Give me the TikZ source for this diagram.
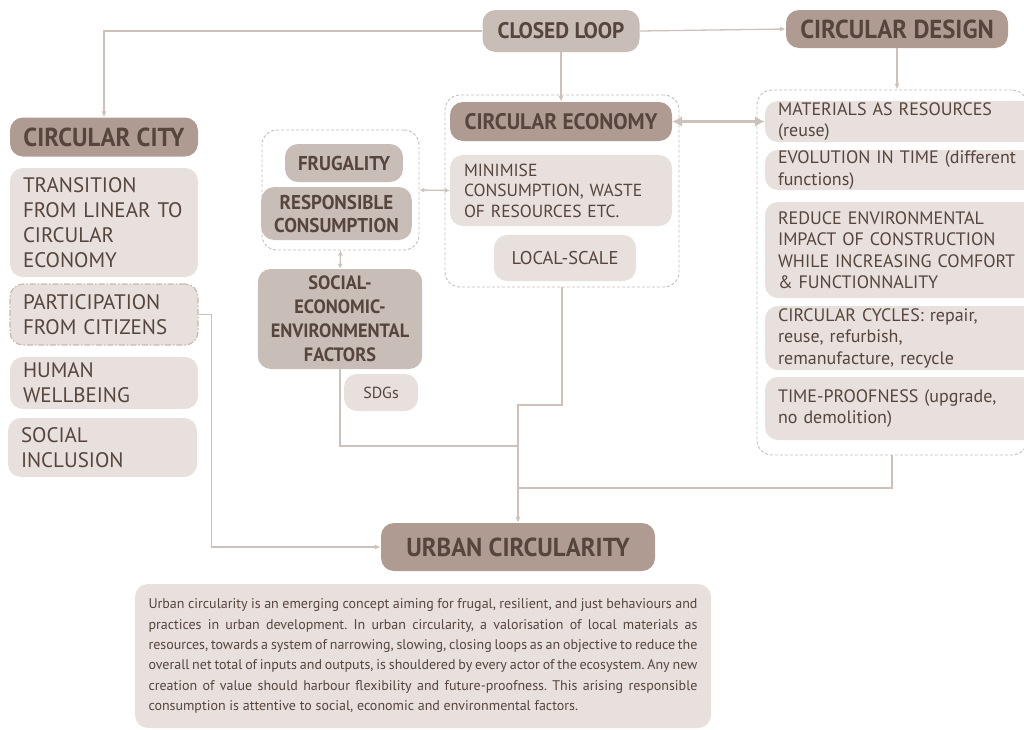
\documentclass[tikz,border=0pt]{standalone}
\usepackage{fontspec}
\setmainfont{PT Sans}
\newfontfamily\headfont{PT Sans}[FakeStretch=0.95]
\usetikzlibrary{arrows.meta, positioning}
\definecolor{taupe}{RGB}{176,155,146}
\definecolor{greige}{RGB}{201,189,183}
\definecolor{mist}{RGB}{231,224,220}
\definecolor{ink}{RGB}{86,69,61}
\definecolor{wire}{RGB}{205,193,188}
\definecolor{frame}{RGB}{198,186,180}

\begin{document}
\begin{tikzpicture}[
    x=1pt, y=-1pt,
    base/.style={
        rectangle,
        rounded corners=13pt,
        inner xsep=13pt,
        inner ysep=0pt,
        text=ink
    },
    head/.style={
        base,
        fill=taupe,
        align=center,
        font=\headfont\bfseries\fontsize{26}{30}\selectfont
    },
    sub/.style={
        base,
        fill=greige,
        align=center,
        font=\headfont\bfseries\fontsize{20}{23}\selectfont
    },
    item/.style={
        base,
        fill=mist,
        align=left,
        font=\fontsize{21}{25}\selectfont
    },
    note/.style={
        base,
        fill=mist,
        align=left,
        text width=255pt,
        font=\fontsize{18}{21.5}\selectfont
    },
    group/.style={
        rectangle,
        rounded corners=15pt,
        draw=frame,
        line width=0.9pt,
        dash pattern=on 3pt off 2pt
    },
    link/.style={draw=wire, line width=1.3pt},
    feed/.style={link, -{Latex[length=6pt, width=5pt]}},
    duplex/.style={link, {Latex[length=5pt, width=5pt]}-{Latex[length=5pt, width=5pt]}},
    bigduplex/.style={draw=wire, line width=3.5pt, {Latex[length=10pt, width=11pt]}-{Latex[length=10pt, width=11pt]}}
]
\useasboundingbox (0,0) rectangle (1024,729);

% dashed groups
\node[group, minimum width=157pt, minimum height=120pt] (frugbox) at (340.5,190) {};
\node[group, minimum width=234pt, minimum height=192pt] (econbox) at (562,191) {};
\node[group, minimum width=270pt, minimum height=365pt] (designbox) at (892,272.5) {};

% top row
\node[sub, font=\headfont\bfseries\fontsize{22.5}{26}\selectfont,
      minimum width=157pt, minimum height=42pt] (closed) at (561,31) {CLOSED LOOP};
\node[head, minimum width=222pt, minimum height=38pt] (design) at (897,29) {CIRCULAR DESIGN};

% circular city column
\node[head, minimum width=188pt, minimum height=39pt] (city) at (104,137) {CIRCULAR CITY};
\node[item, text width=162pt, minimum height=109pt] (transition) at (104,222.5)
    {TRANSITION\\FROM LINEAR TO\\CIRCULAR\\ECONOMY};
\node[item, text width=162pt, minimum height=61pt, draw=frame, line width=1.2pt,
      dash pattern=on 6pt off 2pt on 1.5pt off 2pt] (particip) at (104,314.5)
    {PARTICIPATION\\FROM CITIZENS};
\node[item, text width=162pt, minimum height=52pt] (human) at (104,383) {HUMAN\\WELLBEING};
\node[item, text width=163pt, minimum height=59pt] (inclusion) at (102.5,447.5) {SOCIAL\\INCLUSION};

% frugality column
\node[sub, minimum width=110pt, minimum height=38pt] (frugal) at (344,163) {FRUGALITY};
\node[sub, minimum width=133pt, minimum height=53pt] (respons) at (336.5,213.5) {RESPONSIBLE\\CONSUMPTION};
\node[sub, font=\headfont\bfseries\fontsize{19.3}{24}\selectfont,
      minimum width=162pt, minimum height=100pt] (factors) at (340,319)
    {SOCIAL-\\ECONOMIC-\\ENVIRONMENTAL\\FACTORS};
\node[item, align=center, font=\fontsize{16}{18}\selectfont, inner xsep=0pt,
      minimum width=74pt, minimum height=37pt] (sdgs) at (381,392.5) {SDGs};

% circular economy column
\node[head, font=\headfont\bfseries\fontsize{22.5}{26}\selectfont,
      minimum width=222pt, minimum height=39pt] (economy) at (561,121.5) {CIRCULAR ECONOMY};
\node[item, font=\fontsize{17.5}{20.5}\selectfont, text width=194pt, inner xsep=14pt,
      minimum height=71pt] (minimise) at (561,190.5)
    {MINIMISE\\CONSUMPTION, WASTE\\OF RESOURCES ETC.};
\node[item, align=center, font=\fontsize{18.5}{21}\selectfont,
      minimum width=142pt, minimum height=46pt] (local) at (565,258) {LOCAL-SCALE};

% circular design column
\node[note, minimum height=41pt] (materials) at (905.5,121.5)
    {MATERIALS AS RESOURCES\\(reuse)};
\node[note, minimum height=40pt] (evolution) at (905.5,170)
    {EVOLUTION IN TIME (different\\functions)};
\node[note, minimum height=96pt] (reduce) at (905.5,250)
    {REDUCE ENVIRONMENTAL\\IMPACT OF CONSTRUCTION\\WHILE INCREASING COMFORT\\\& FUNCTIONNALITY};
\node[note, minimum height=64pt] (cycles) at (905.5,338)
    {CIRCULAR CYCLES: repair,\\reuse, refurbish,\\remanufacture, recycle};
\node[note, minimum height=63pt] (proof) at (905.5,408.5)
    {TIME-PROOFNESS (upgrade,\\no demolition)};

% outcome
\node[head, minimum width=274pt, minimum height=48pt] (urban) at (518,547) {URBAN CIRCULARITY};
\node[base, fill=mist, inner xsep=13pt, minimum width=576pt, minimum height=144pt,
      font=\fontsize{14}{20.3}\selectfont] (summary) at (423,656)
    {\parbox{549pt}{\frenchspacing
    Urban circularity is an emerging concept aiming for frugal, resilient, and just behaviours and\linebreak
    practices in urban development. In urban circularity, a valorisation of local materials as\linebreak
    resources, towards a system of narrowing, slowing, closing loops as an objective to reduce the\linebreak
    overall net total of inputs and outputs, is shouldered by every actor of the ecosystem. Any new\linebreak
    creation of value should harbour flexibility and future-proofness. This arising responsible\linebreak
    consumption is attentive to social, economic and environmental factors.}};

% joints on the way to urban circularity
\coordinate (midjoin) at (518,405);
\coordinate (leftjoin) at (518,446);
\coordinate (rightjoin) at (518,488);

\draw[feed] (closed.west) -| (city.north);
\draw[feed] (closed.east) -- (design.west);
\draw[feed] (closed.south) -- (economy.north);
\draw[feed] (design.south) -- (design.south |- designbox.north);
\draw[bigduplex] (economy.east) -- (materials.west);
\draw[duplex] (frugbox.east) -- (minimise.west);
\draw[duplex] (frugbox.south) -- (factors.north);
\draw[feed] (econbox.south) |- (midjoin) -- (urban.north);
\draw[link] (factors.south) |- (leftjoin);
\draw[link] (designbox.south) |- (rightjoin);
\draw[feed] (particip.east) -- ++(13,0) |- (urban.west);

\end{tikzpicture}
\end{document}
